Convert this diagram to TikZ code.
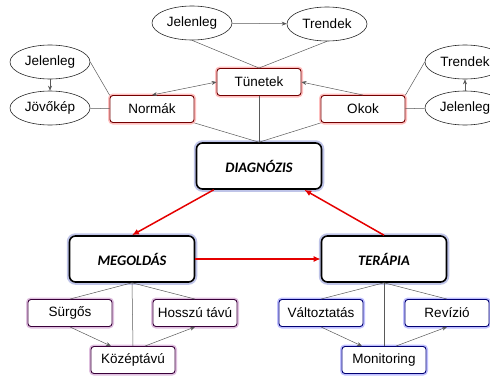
\documentclass[tikz,border=0pt]{standalone}
\usepackage{fontspec}
\setmainfont{Liberation Sans}
\newfontfamily\calibri{Carlito}
\usetikzlibrary{shapes.geometric,arrows.meta}

\begin{document}
\begin{tikzpicture}[x=1pt, y=-1pt, font=\fontsize{13.5}{15}\selectfont, >={Stealth[length=5pt,width=4pt]},
        oval/.style={ellipse, draw=black!85, line width=0.6pt, fill=white, minimum width=80pt, minimum height=34pt, inner sep=0pt},
        box/.style={rectangle, rounded corners=3pt, draw=#1!45!black, line width=0.9pt, fill=white,
          minimum width=84pt, minimum height=27pt, inner sep=0pt, preaction={draw=#1!25, line width=4pt}},
        big/.style={rectangle, rounded corners=6pt, draw=black, line width=1.6pt, fill=white,
          minimum width=125pt, minimum height=46pt, preaction={draw=cyan!30!blue!25, line width=5.5pt},
          font=\calibri\bfseries\itshape\fontsize{14.5}{16}\selectfont},
        thin/.style={draw=black!65, line width=0.5pt},
        flow/.style={draw=red!90!black, line width=1.5pt, -{Latex[length=7pt,width=6pt]}}]
        \useasboundingbox (0,0) rectangle (490,375);
        \node[oval] (J1) at (192,23) {Jelenleg};
        \node[oval] (T1) at (327,24) {Trendek};
        \node[oval] (J2) at (50,62) {Jelenleg};
        \node[oval] (Jk) at (50,108) {Jövőkép};
        \node[oval] (T2) at (465,62) {Trendek};
        \node[oval] (J3) at (465,108) {Jelenleg};
        \node[box=red] (Tu) at (259,82) {Tünetek};
        \node[box=red] (No) at (152,109) {Normák};
        \node[box=red] (Ok) at (363,109) {Okok};
        \node[big] (D) at (259,166) {DIAGNÓZIS};
        \node[big] (M) at (132,259) {MEGOLDÁS};
        \node[big] (T) at (384,259) {TERÁPIA};
        \node[box=violet] (S) at (70,313) {Sürgős};
        \node[box=violet] (H) at (195,313) {Hosszú távú};
        \node[box=violet] (K) at (133,360) {Középtávú};
        \node[box=blue] (V) at (321,313) {Változtatás};
        \node[box=blue] (R) at (447,313) {Revízió};
        \node[box=blue] (Mo) at (384,360) {Monitoring};

        \draw[thin, ->] (J1) -- (T1);
        \draw[thin] (J1.south) -- (Tu.north) -- (T1.south);
        \draw[thin, ->] (J2) -- (Jk);
        \draw[thin] (Jk) -- (No);
        \draw[thin] (J2.east) -- (No.north west);
        \draw[thin, <->] (No.north) -- (Tu.west);
        \draw[thin, ->] (Ok.north) -- (Tu.east);
        \draw[thin, ->] (J3) -- (T2);
        \draw[thin] (Ok) -- (J3);
        \draw[thin] (Ok.north east) -- (T2.west);
        \draw[thin] (Tu) -- (D.north);
        \draw[thin] (No.south east) -- (D.north);
        \draw[thin] (Ok.south west) -- (D.north);

        \draw[flow] (D.south west) ++(18,0) -- (M.north);
        \draw[flow] (T.north) -- ([xshift=-18pt]D.south east);
        \draw[flow] (M) -- (T);

        \draw[thin] (M.south) -- (S.north);
        \draw[thin] (M.south) -- (H.north);
        \draw[thin] (M.south) -- (K.north);
        \draw[thin, ->] (S.south) -- ([xshift=-22pt]K.north);
        \draw[thin, ->] ([xshift=12pt]K.north) -- (H.south);
        \draw[thin] (T.south) -- (V.north);
        \draw[thin] (T.south) -- (R.north);
        \draw[thin] (T.south) -- (Mo.north);
        \draw[thin, ->] (V.south) -- ([xshift=-22pt]Mo.north);
        \draw[thin, ->] ([xshift=12pt]Mo.north) -- (R.south);
\end{tikzpicture}
\end{document}
